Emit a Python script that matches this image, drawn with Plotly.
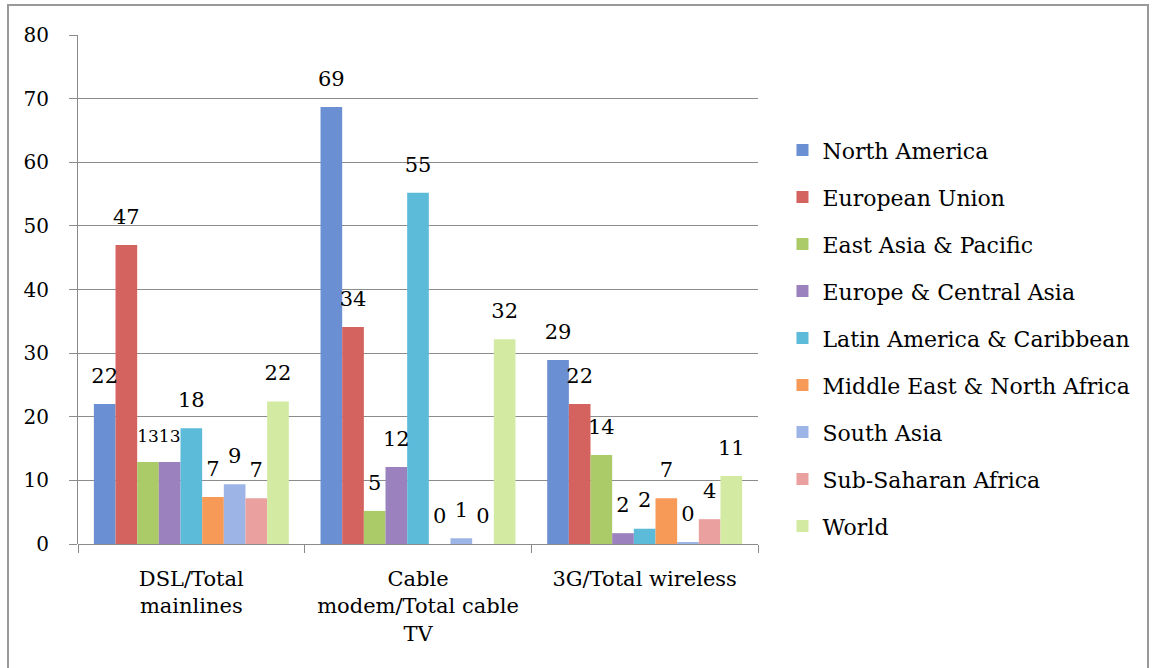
import plotly.graph_objects as go

categories = ["DSL/Total<br>mainlines", "Cable<br>modem/Total cable<br>TV", "3G/Total wireless"]
series_names = ["North America", "European Union", "East Asia & Pacific", "Europe & Central Asia",
                "Latin America & Caribbean", "Middle East & North Africa", "South Asia",
                "Sub-Saharan Africa", "World"]
north_america = [22.0, 68.7, 28.9]
european_union = [47.0, 34.1, 22.0]
east_asia_pacific = [12.9, 5.2, 14.0]
europe_central_asia = [12.9, 12.1, 1.7]
latin_america_caribbean = [18.2, 55.2, 2.4]
middle_east_north_africa = [7.4, 0.0, 7.2]
south_asia = [9.4, 0.9, 0.3]
sub_saharan_africa = [7.2, 0.0, 3.9]
world = [22.4, 32.2, 10.7]

series_values = [north_america, european_union, east_asia_pacific, europe_central_asia,
                 latin_america_caribbean, middle_east_north_africa, south_asia,
                 sub_saharan_africa, world]
colors = ["#6A8FD2", "#D4625F", "#AACB68", "#9B82BF", "#5DBBDA", "#F79A57", "#9DB5E6", "#EBA0A0", "#D2EAA2"]

FONT = "DejaVu Serif"
GAP = 0.14
LABEL_SIZE = 21
# two adjacent labels ("13", "13") that would collide get a slightly smaller font
crowded = {(2, 0), (3, 0)}

fig = go.Figure()
for i, (name, vals, col) in enumerate(zip(series_names, series_values, colors)):
    fig.add_trace(go.Bar(
        name=name, x=categories, y=vals,
        marker=dict(color=col, line=dict(width=0)),
        offsetgroup=str(i), alignmentgroup="a",
        legendgroup=str(i),
    ))
for i, vals in enumerate(series_values):
    sizes = [17 if (i, j) in crowded else LABEL_SIZE for j in range(len(vals))]
    fig.add_trace(go.Scatter(
        x=categories, y=vals, mode="markers+text",
        marker=dict(size=24, color="rgba(0,0,0,0)"),
        texttemplate="%{y:.0f}", textposition="top center",
        textfont=dict(family=FONT, size=sizes, color="black"),
        offsetgroup=str(i), alignmentgroup="a",
        cliponaxis=False, showlegend=False, hoverinfo="skip",
    ))

fig.update_layout(
    width=1154, height=668,
    margin=dict(l=78, r=396, t=35, b=124),
    paper_bgcolor="white", plot_bgcolor="white",
    barmode="group", bargap=GAP, bargroupgap=0,
    scattermode="group", scattergap=GAP,
    font=dict(family=FONT, color="black"),
    legend=dict(x=1.036, y=0.815, xanchor="left", yanchor="top",
                font=dict(family=FONT, size=22, color="black"),
                tracegroupgap=15.4, itemsizing="constant", bgcolor="rgba(0,0,0,0)"),
    xaxis=dict(showgrid=False, showline=False, ticks="outside", tickson="boundaries",
               ticklen=8, tickcolor="#888888", tickwidth=1, ticklabelstandoff=20,
               tickfont=dict(family=FONT, size=21, color="black")),
    yaxis=dict(range=[0, 80], dtick=10, showgrid=True, gridcolor="#8c8c8c", gridwidth=1,
               showline=True, linecolor="#8c8c8c", linewidth=1,
               ticks="outside", ticklen=8, tickcolor="#8c8c8c",
               ticklabelstandoff=16,
               zeroline=True, zerolinecolor="#8c8c8c", zerolinewidth=1,
               tickfont=dict(family=FONT, size=20, color="black")),
    shapes=[dict(type="rect", xref="paper", yref="paper",
                 x0=(8 - 78) / 680, x1=(1148 - 78) / 680,
                 y0=(544 - 680) / 509, y1=(544 - 5) / 509,
                 line=dict(color="#999999", width=2), fillcolor="rgba(0,0,0,0)", layer="below")],
)

fig.write_html("out.html")
